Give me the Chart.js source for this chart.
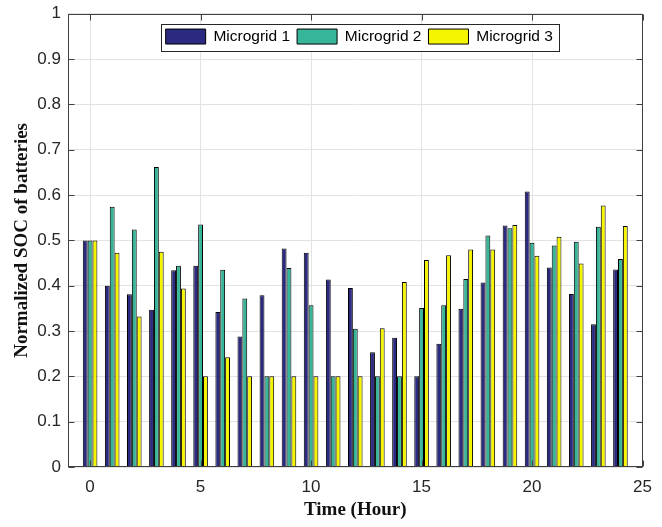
<!DOCTYPE html>
<html><head><meta charset="utf-8">
<script src="https://cdn.jsdelivr.net/npm/chart.js@4/dist/chart.umd.min.js"></script>
<style>html,body{margin:0;padding:0;background:#fff;} canvas{display:block}</style>
</head><body>
<canvas id="c" width="662" height="527"></canvas>
<script>
const hours = [0,1,2,3,4,5,6,7,8,9,10,11,12,13,14,15,16,17,18,19,20,21,22,23,24];
const microgrid1 = [0.5,0.4,0.381,0.347,0.434,0.444,0.342,0.288,0.379,0.482,0.473,0.414,0.395,0.253,0.285,0.2,0.272,0.349,0.407,0.533,0.608,0.44,0.382,0.315,0.436];
const microgrid2 = [0.5,0.574,0.524,0.662,0.444,0.535,0.435,0.372,0.2,0.439,0.357,0.2,0.305,0.2,0.2,0.351,0.357,0.415,0.511,0.527,0.495,0.489,0.497,0.53,0.459];
const microgrid3 = [0.5,0.473,0.332,0.475,0.394,0.2,0.242,0.2,0.2,0.2,0.2,0.2,0.2,0.306,0.408,0.457,0.467,0.48,0.48,0.534,0.466,0.508,0.449,0.577,0.532];
const seriesNames = ['Microgrid 1','Microgrid 2','Microgrid 3'];
const xTickLabels = ['0','5','10','15','20','25'];
const yTickLabels = ['0','0.1','0.2','0.3','0.4','0.5','0.6','0.7','0.8','0.9','1'];
const xTitle = 'Time (Hour)';
const yTitle = 'Normalized SOC of batteries';

const colors = ['#2c2a80', '#36b598', '#f5f500'];
const seriesValues = [microgrid1, microgrid2, microgrid3];

const legendInside = {
  id: 'legendInside',
  beforeLayout(chart) {
    const lg = chart.legend;
    if (lg && !lg._patched) {
      const origFit = lg.fit;
      lg.fit = function() {
        origFit.apply(this, arguments);
        this._realH = this.height;
        this.height = 0;
      };
      const origDraw = lg.draw;
      lg.draw = function() {
        const ctx = this.ctx;
        const dx = 4;
        ctx.save();
        ctx.translate(dx, 0);
        const hb = this.legendHitBoxes;
        if (hb && hb.length) {
          const l = Math.round(hb[0].left - 5) + 0.5;
          const last = hb[hb.length - 1];
          const r = Math.round(last.left + last.width + 6) + 0.5;
          const t = Math.round(this.top + 10) + 0.5;
          const b = t + 27;
          ctx.fillStyle = '#fff';
          ctx.fillRect(l, t, r - l, b - t);
          ctx.strokeStyle = '#262626';
          ctx.lineWidth = 1;
          ctx.strokeRect(l, t, r - l, b - t);
        }
        const h = this.height, bt = this.bottom;
        this.height = this._realH + 20;
        this.bottom = this.top + this.height;
        const res = origDraw.apply(this, arguments);
        this.height = h; this.bottom = bt;
        ctx.restore();
        return res;
      };
      lg._patched = true;
    }
  }
};

const axesBox = {
  id: 'axesBox',
  afterDatasetsDraw(chart) {
    const {ctx, chartArea: a, scales: {x, y}} = chart;
    ctx.save();
    ctx.strokeStyle = '#404040';
    ctx.lineWidth = 1;
    ctx.beginPath();
    const L = Math.round(a.left) + 0.5, R = Math.round(a.right) - 0.5;
    const T = Math.round(a.top) + 0.5, B = Math.round(a.bottom) - 0.5;
    x.ticks.forEach(t => {
      const px = Math.round(x.getPixelForValue(t.value)) + 0.5;
      ctx.moveTo(px, B); ctx.lineTo(px, B - 6);
      ctx.moveTo(px, T); ctx.lineTo(px, T + 6);
    });
    y.ticks.forEach(t => {
      const py = Math.round(y.getPixelForValue(t.value)) + 0.5;
      ctx.moveTo(L, py); ctx.lineTo(L + 6, py);
      ctx.moveTo(R, py); ctx.lineTo(R - 6, py);
    });
    ctx.stroke();
    ctx.strokeRect(L, T, R - L, B - T);
    ctx.restore();
  }
};

new Chart(document.getElementById('c'), {
  type: 'bar',
  data: {
    datasets: seriesValues.map((vals, k) => ({
      label: seriesNames[k],
      data: hours.map((h, i) => ({x: h, y: vals[i]})),
      backgroundColor: colors[k],
      borderColor: '#000',
      borderWidth: 1,
      categoryPercentage: 0.66,
      barPercentage: 1.0
    }))
  },
  options: {
    responsive: false,
    animation: false,
    devicePixelRatio: 1,
    layout: {padding: {top: 7, right: 10, left: 0, bottom: 0}},
    plugins: {
      tooltip: {enabled: false},
      legend: {
        position: 'top',
        fullSize: false,
        align: 'center',
        title: {display: true, text: '', font: {size: 1}, padding: {top: 6.8, bottom: 0}},
        labels: {
          boxWidth: 40,
          boxHeight: 15,
          padding: 7,
          color: '#000',
          font: {family: "'Liberation Sans', Arial, sans-serif", size: 15.5}
        }
      }
    },
    scales: {
      x: {
        type: 'linear',
        min: -1,
        max: 25,
        offset: false,
        afterFit: s => { s.height = 60; },
        grid: {color: '#e3e3e3', drawTicks: false, offset: false},
        border: {display: false},
        ticks: {
          stepSize: 5,
          includeBounds: false,
          padding: 10,
          color: '#262626',
          font: {family: "'Liberation Sans', Arial, sans-serif", size: 17},
          callback: (v) => xTickLabels[xTickLabels.indexOf(String(v))] ?? ''
        },
        title: {
          display: true,
          text: xTitle,
          color: '#111',
          padding: {top: 5.5, bottom: 5.5},
          font: {family: "'Liberation Serif', 'Times New Roman', serif", size: 19, weight: 'bold'}
        }
      },
      y: {
        min: 0,
        max: 1,
        afterFit: s => { s.width = 68; },
        grid: {color: '#e3e3e3', drawTicks: false},
        border: {display: false},
        ticks: {
          stepSize: 0.1,
          padding: 7,
          color: '#262626',
          font: {family: "'Liberation Sans', Arial, sans-serif", size: 17, lineHeight: 0.8},
          callback: (v) => yTickLabels[Math.round(v * 10)]
        },
        title: {
          display: true,
          text: yTitle,
          color: '#111',
          padding: {top: 11, bottom: 11},
          font: {family: "'Liberation Serif', 'Times New Roman', serif", size: 19, weight: 'bold'}
        }
      }
    }
  },
  plugins: [legendInside, axesBox]
});
</script>
</body></html>
